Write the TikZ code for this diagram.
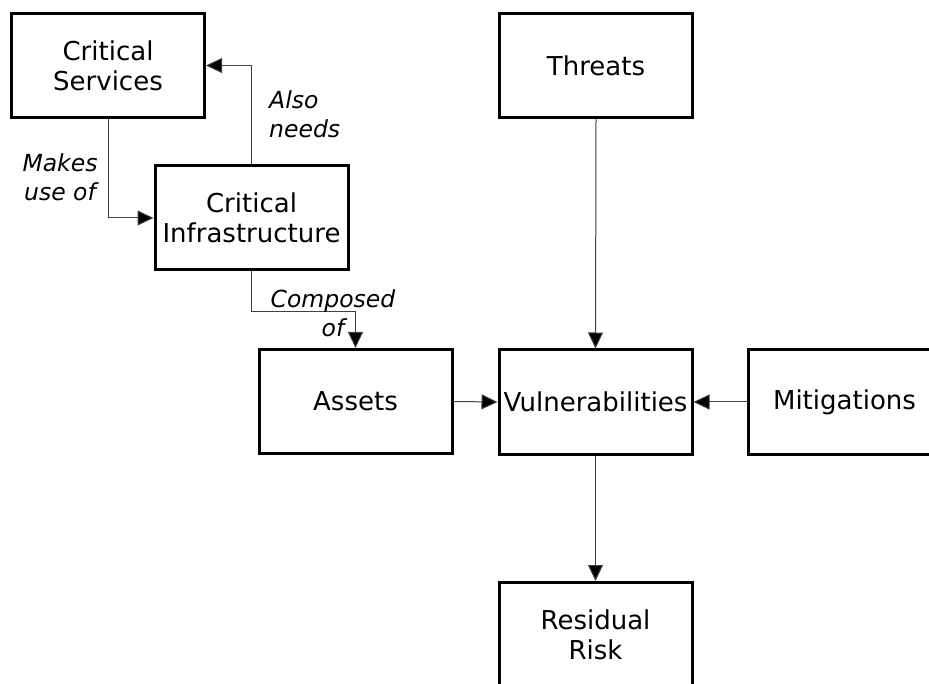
\documentclass[tikz,border=0pt]{standalone}
\usepackage{fontspec}
\setmainfont{DejaVu Sans}
\usetikzlibrary{arrows.meta}
\begin{document}
\begin{tikzpicture}[x=1pt,y=-1pt,
  box/.style={draw=black, line width=3pt, minimum width=193pt, minimum height=104pt,
    inner sep=0pt, align=center, font=\fontsize{26}{30}\selectfont},
  conn/.style={draw=black!75, line width=1pt, -{Triangle[length=16pt,width=15pt,fill=black]}},
  lbl/.style={inner sep=0pt, font=\fontsize{23.5}{29}\selectfont\itshape}
]
\clip (0,0) rectangle (929,684);
\useasboundingbox (0,0) rectangle (929,684);
\fill[white] (0,0) rectangle (929,684);

\node[box] (cs) at (108,65.5) {Critical\\Services};
\node[box] (ci) at (251.5,218) {Critical\\Infrastructure};
\node[box] (th) at (596,65.5) {Threats};
\node[box] (as) at (355.5,401.5) {Assets};
\node[box] (vu) at (595.5,402) {Vulnerabilities};
\node[box] (mi) at (844.5,402) {Mitigations};
\node[box] (rr) at (595.5,634.5) {Residual\\Risk};

\draw[conn] (cs.south) |- (ci.west);
\draw[conn] (ci.north) |- (cs.east);
\draw[conn] (ci.south) -- ++(0,40) -| (as.north);
\draw[conn] (th.south) -- (vu.north);
\draw[conn] (as.east) -- (vu.west);
\draw[conn] (mi.west) -- (vu.east);
\draw[conn] (vu.south) -- (rr.north);

\node[lbl, align=center] (l1) at (60,177) {Makes\\use of};
\node[lbl, align=left, anchor=west] (l2) at (269,114) {Also\\needs};
\node[lbl, align=center] (l3) at (333,313) {Composed\\of};
\end{tikzpicture}
\end{document}
